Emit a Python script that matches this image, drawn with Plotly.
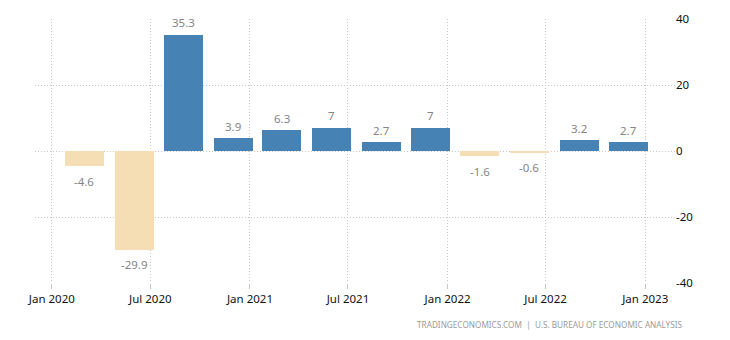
import plotly.graph_objects as go

quarters = ["2020-03-01", "2020-06-01", "2020-09-01", "2020-12-01",
            "2021-03-01", "2021-06-01", "2021-09-01", "2021-12-01",
            "2022-03-01", "2022-06-01", "2022-09-01", "2022-12-01"]
growth = [-4.6, -29.9, 35.3, 3.9, 6.3, 7, 2.7, 7, -1.6, -0.6, 3.2, 2.7]
labels = ["-4.6", "-29.9", "35.3", "3.9", "6.3", "7", "2.7", "7", "-1.6", "-0.6", "3.2", "2.7"]
y_ticks = [-40, -20, 0, 20, 40]
y_ticktext = ["-40", "-20", "0", "20", "40"]

POS = "#4682B4"
NEG = "#F5DEB3"
colors = [POS if v >= 0 else NEG for v in growth]
FONT = "Noto Sans, DejaVu Sans, sans-serif"

fig = go.Figure()
fig.add_trace(go.Bar(
    x=quarters, y=growth,
    marker=dict(color=colors, line=dict(width=0)),
    width=72 * 86400000,
    hoverinfo="x+y",
))

for q, v, t in zip(quarters, growth, labels):
    fig.add_annotation(
        x=q, y=v, text=t, showarrow=False,
        xanchor="center", yanchor="middle",
        yshift=12 if v >= 0 else -15,
        font=dict(family=FONT, size=11.5, color="#858585"),
    )

fig.add_annotation(
    xref="paper", yref="paper", x=1.0155, y=-0.159,
    xanchor="right", yanchor="middle", showarrow=False,
    text="TRADINGECONOMICS.COM  |  U.S. BUREAU OF ECONOMIC ANALYSIS",
    font=dict(family=FONT, size=8.2, color="#9a9a9a"),
)

grid = "#c8c8c8"
fig.update_layout(
    width=730, height=340,
    margin=dict(l=35, r=55, t=19, b=57),
    paper_bgcolor="white", plot_bgcolor="white",
    showlegend=False,
    font=dict(family=FONT, size=12, color="#111111"),
    xaxis=dict(
        type="date",
        range=["2019-12-01", "2023-02-25"],
        tick0="2020-01-01", dtick="M6", tickformat="%b %Y",
        showgrid=True, gridcolor=grid, griddash="1px,2px", gridwidth=1,
        ticks="outside", ticklen=5, tickcolor=grid, tickwidth=1,
        showline=False, zeroline=False,
        tickfont=dict(family=FONT, size=11.5, color="#111111"),
    ),
    yaxis=dict(
        side="right",
        range=[-40, 40],
        tickvals=y_ticks, ticktext=y_ticktext,
        showgrid=True, gridcolor=grid, griddash="1px,2px", gridwidth=1,
        zeroline=False, showline=False, ticks="",
        tickfont=dict(family=FONT, size=11.5, color="#111111"),
    ),
    bargap=0,
)

fig.write_html("out.html")
